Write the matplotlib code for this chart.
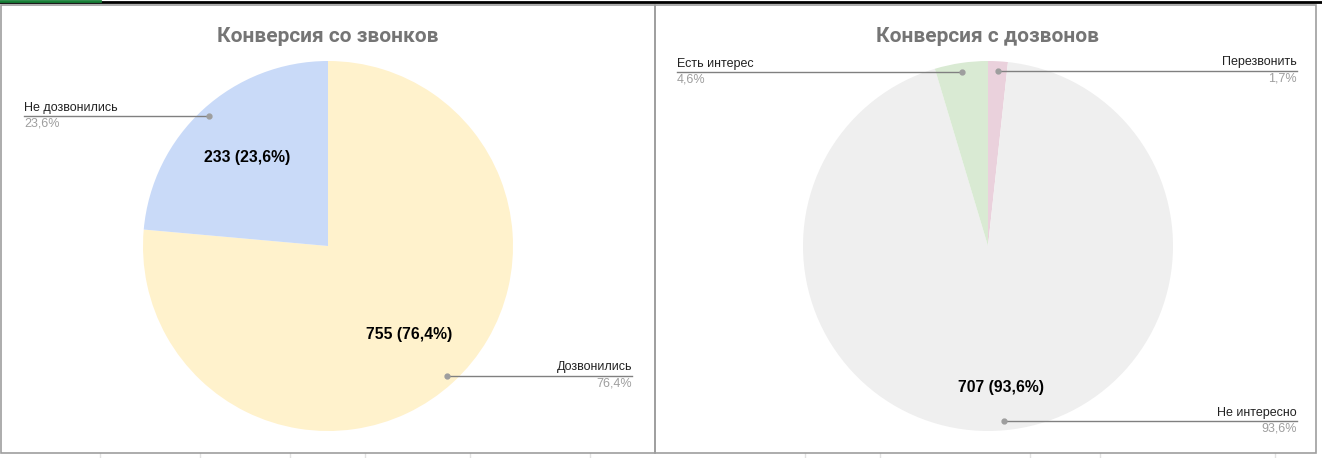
import numpy as np
import matplotlib
matplotlib.use("Agg")
import matplotlib.pyplot as plt
from matplotlib.patches import Rectangle

W, H = 1322, 458

# ---- data ----
title1 = "Конверсия со звонков"
labels1 = ["Дозвонились", "Не дозвонились"]
values1 = [755, 233]
colors1 = ["#FFF2CC", "#C9DAF8"]

title2 = "Конверсия с дозвонов"
labels2 = ["Перезвонить", "Не интересно", "Есть интерес"]
values2 = [13, 707, 35]
colors2 = ["#EAD1DC", "#EFEFEF", "#D9EAD3"]

fig = plt.figure(figsize=(W / 100, H / 100), dpi=100)
ax = fig.add_axes([0, 0, 1, 1])
ax.set_xlim(0, W)
ax.set_ylim(0, H)
ax.axis("off")

def Y(y):
    return H - y

# spreadsheet background hints
ax.plot([0, W], [Y(2), Y(2)], color="black", lw=2, zorder=0)
ax.plot([0, 100], [Y(1), Y(1)], color="#188038", lw=2, zorder=0)
for x in [100, 200, 290, 365, 470, 590, 805, 880, 1030, 1100, 1275]:
    ax.plot([x, x], [Y(453), Y(458)], color="#e2e2e2", lw=1, zorder=0)

# chart boxes
ax.add_patch(Rectangle((0.5, Y(453)), 654, 448, fill=False, ec="#9e9e9e", lw=1.2, zorder=1))
ax.add_patch(Rectangle((654.5, Y(453)), 661, 448, fill=False, ec="#9e9e9e", lw=1.2, zorder=1))

FONT = "Liberation Sans"

def fmt_pct(p):
    return f"{p:.1f}".replace(".", ",") + "%"

def draw_pie(cx, cy, R, values, labels, colors, title, inner_r, sides, text_x):
    ax.text(cx, Y(36), title, ha="center", va="center", fontsize=15,
            fontweight="bold", color="#757575", family="Roboto")
    wedges, _ = ax.pie(values, colors=colors, startangle=90, counterclock=False,
                       center=(cx, Y(cy)), radius=R, frame=True,
                       wedgeprops=dict(linewidth=0))
    total = float(sum(values))
    cum = 0.0
    for i, (v, lab) in enumerate(zip(values, labels)):
        frac = v / total
        mid = (cum + frac / 2) * 2 * np.pi  # clockwise from top
        cum += frac
        dx, dy = np.sin(mid), np.cos(mid)
        # leader dot and line
        px, py = cx + 0.95 * R * dx, Y(cy) + 0.95 * R * dy
        side = sides[i]
        tx = text_x[side]
        ax.plot([px, tx], [py, py], color="#808080", lw=1, zorder=3)
        ax.plot([px], [py], "o", color="#9e9e9e", ms=3.5, zorder=4)
        ha = "left" if side == "L" else "right"
        ax.text(tx, py + 2.5, lab, ha=ha, va="bottom", fontsize=9, color="#222222", family=FONT)
        ax.text(tx, py - 1.5, fmt_pct(frac * 100), ha=ha, va="top", fontsize=9, color="#9e9e9e", family=FONT)
        # inner label
        if inner_r[i] is not None:
            r = inner_r[i] * R
            ax.text(cx + r * dx, Y(cy) + r * dy, f"{v} ({fmt_pct(frac * 100)})",
                    ha="center", va="center", fontsize=11.3, fontweight="bold",
                    color="black", family=FONT, zorder=5)

draw_pie(328, 246, 185, values1, labels1, colors1, title1,
         inner_r=[0.65, 0.65], sides=["R", "L"], text_x={"L": 24, "R": 632})
draw_pie(988, 246, 185, values2, labels2, colors2, title2,
         inner_r=[None, 0.77, None], sides=["R", "R", "L"], text_x={"L": 677, "R": 1297})

ax.set_xlim(0, W)
ax.set_ylim(0, H)
ax.set_aspect("auto")
ax.axis("off")

fig.savefig("out.png", dpi=100)
